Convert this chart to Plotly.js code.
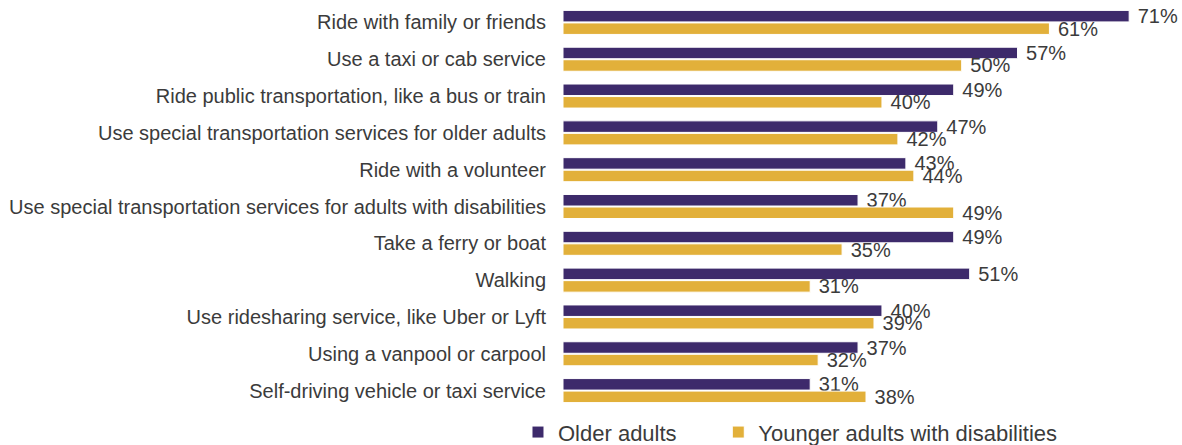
<!DOCTYPE html>
<html>
<head>
<meta charset="utf-8">
<script src="https://cdn.plot.ly/plotly-3.0.1.min.js"></script>
<style>
  html, body { margin: 0; padding: 0; background: #ffffff; }
  #chart { width: 1182px; height: 445px; }
</style>
</head>
<body>
<div id="chart"></div>
<script>
const categories = [
  "Ride with family or friends",
  "Use a taxi or cab service",
  "Ride public transportation, like a bus or train",
  "Use special transportation services for older adults",
  "Ride with a volunteer",
  "Use special transportation services for adults with disabilities",
  "Take a ferry or boat",
  "Walking",
  "Use ridesharing service, like Uber or Lyft",
  "Using a vanpool or carpool",
  "Self-driving vehicle or taxi service"
];
const olderAdults = [71, 57, 49, 47, 43, 37, 49, 51, 40, 37, 31];
const youngerAdults = [61, 50, 40, 42, 44, 49, 35, 31, 39, 32, 38];
const seriesNames = ["Older adults", "Younger adults with disabilities"];

const textColor = "#3b3b3b";
const fontFamily = "Liberation Sans, Arial, sans-serif";

function makeTrace(values, name, color) {
  return {
    type: "bar",
    orientation: "h",
    name: name,
    y: categories,
    x: values,
    text: values.map(v => "\u00a0" + v + "%"),
    textposition: "outside",
    constraintext: "none",
    cliponaxis: false,
    textfont: { family: fontFamily, size: 20, color: textColor },
    marker: { color: color, line: { color: "#ffffff", width: 1 } },
    hoverinfo: "x+y"
  };
}

const data = [
  makeTrace(olderAdults, seriesNames[0] + "\u00a0\u00a0\u00a0\u00a0\u00a0\u00a0", "#3d2a6b"),
  makeTrace(youngerAdults, seriesNames[1], "#e2b03a")
];

const layout = {
  width: 1182,
  height: 445,
  margin: { l: 563, r: 5, t: 4, b: 36, autoexpand: false },
  paper_bgcolor: "#ffffff",
  plot_bgcolor: "#ffffff",
  barmode: "group",
  bargap: 0.32,
  bargroupgap: 0.08,
  font: { family: fontFamily, size: 20, color: textColor },
  xaxis: {
    range: [0, 77],
    showgrid: false,
    zeroline: false,
    showline: false,
    showticklabels: false,
    ticks: "",
    fixedrange: true
  },
  yaxis: {
    autorange: "reversed",
    showgrid: false,
    zeroline: false,
    showline: false,
    ticks: "outside",
    ticklen: 12,
    tickcolor: "rgba(0,0,0,0)",
    tickfont: { family: fontFamily, size: 20, color: textColor },
    fixedrange: true
  },
  showlegend: true,
  legend: {
    orientation: "h",
    x: -0.0733,
    xanchor: "left",
    y: -0.0574,
    yanchor: "middle",
    font: { family: fontFamily, size: 22, color: textColor },
    bgcolor: "rgba(0,0,0,0)"
  }
};

Plotly.newPlot("chart", data, layout, { displayModeBar: false, staticPlot: true });
</script>
</body>
</html>
